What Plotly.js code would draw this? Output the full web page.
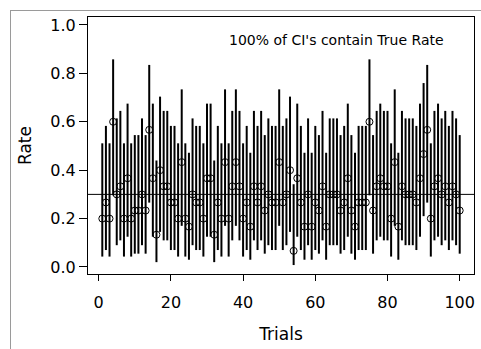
<!DOCTYPE html>
<html>
<head>
<meta charset="utf-8">
<script src="https://cdn.plot.ly/plotly-3.0.1.min.js"></script>
<style>
  html, body { margin: 0; padding: 0; background: #fff; }
  #frame { position: absolute; left: 10px; top: 10px; width: 600px; height: 600px;
           border-left: 1px solid #9a9a9a; border-top: 1px solid #9a9a9a; pointer-events: none; }
  #chart { position: absolute; left: 0; top: 0; width: 481px; height: 349px; }
</style>
</head>
<body>
<div id="chart"></div>
<div id="frame"></div>
<script>
// Trial numbers
const trials = Array.from({length: 100}, (_, i) => i + 1);
const counts = [6,8,6,18,9,10,6,11,6,7, 7,9,7,17,11,4,12,10,10,8,
                8,6,13,6,5,9,8,8,6,11, 11,4,8,6,13,6,10,13,10,6,
                8,5,10,8,10,7,9,8,8,13, 8,9,12,2,11,8,5,9,5,8,
                7,10,5,9,9,9,7,8,11,7, 5,8,8,8,18,7,10,11,10,10,
                6,13,5,10,9,9,9,8,11,14, 17,6,10,11,9,10,8,10,9,7];
const sampleSize = 30;
const trueRate = 0.3;
const levelCount = [2,     4,     5,     6,     7,     8,     9,     10,    11,    12,    13,    14,    17,    18];
const levelLower = [0.008, 0.020, 0.030, 0.043, 0.055, 0.070, 0.090, 0.110, 0.125, 0.145, 0.170, 0.210, 0.266, 0.296];
const levelUpper = [0.342, 0.440, 0.472, 0.511, 0.545, 0.583, 0.614, 0.645, 0.675, 0.704, 0.734, 0.760, 0.835, 0.858];

const est = counts.map(k => k / sampleSize);
const lower = counts.map(k => levelLower[levelCount.indexOf(k)]);
const upper = counts.map(k => levelUpper[levelCount.indexOf(k)]);

const font = 'DejaVu Sans, sans-serif';

const trace = {
  x: trials, y: est, type: 'scatter', mode: 'markers',
  marker: { symbol: 'circle-open', size: 7, color: 'black', line: { width: 1, color: 'black' } },
  error_y: {
    type: 'data', symmetric: false,
    array: upper.map((u, i) => u - est[i]),
    arrayminus: lower.map((l, i) => est[i] - l),
    width: 0, thickness: 2, color: 'black'
  },
  hoverinfo: 'skip', showlegend: false
};

const layout = {
  width: 481, height: 349,
  margin: { l: 88, r: 7, t: 17, b: 75, pad: 0 },
  paper_bgcolor: 'white', plot_bgcolor: 'white',
  font: { family: font, color: 'black', size: 16 },
  xaxis: {
    range: [-2.96, 103.96], tickvals: [0, 20, 40, 60, 80, 100],
    ticks: 'outside', ticklen: 6, tickwidth: 1, tickcolor: 'black',
    ticklabelstandoff: 8,
    showline: true, mirror: true, linecolor: 'black', linewidth: 1,
    showgrid: false, zeroline: false,
    tickfont: { family: font, size: 16 },
    title: { text: 'Trials', font: { family: font, size: 17 }, standoff: 16 }
  },
  yaxis: {
    range: [-0.029, 1.033], tickvals: [0, 0.2, 0.4, 0.6, 0.8, 1.0],
    ticktext: ['0.0', '0.2', '0.4', '0.6', '0.8', '1.0'],
    ticks: 'outside', ticklen: 8, tickwidth: 1, tickcolor: 'black',
    showline: true, mirror: true, linecolor: 'black', linewidth: 1,
    showgrid: false, zeroline: false,
    tickfont: { family: font, size: 16 },
    title: { text: 'Rate', font: { family: font, size: 17 }, standoff: 14 }
  },
  shapes: [{
    type: 'line', xref: 'paper', x0: 0, x1: 1, yref: 'y', y0: trueRate, y1: trueRate,
    line: { color: 'black', width: 1 }
  }],
  annotations: [{
    text: "100% of CI's contain True Rate", xref: 'paper', yref: 'paper',
    x: 0.645, y: 0.9105, xanchor: 'center', yanchor: 'middle', showarrow: false,
    font: { family: font, size: 14, color: 'black' }
  }]
};

Plotly.newPlot('chart', [trace], layout, { displayModeBar: false, staticPlot: true });
</script>
</body>
</html>
